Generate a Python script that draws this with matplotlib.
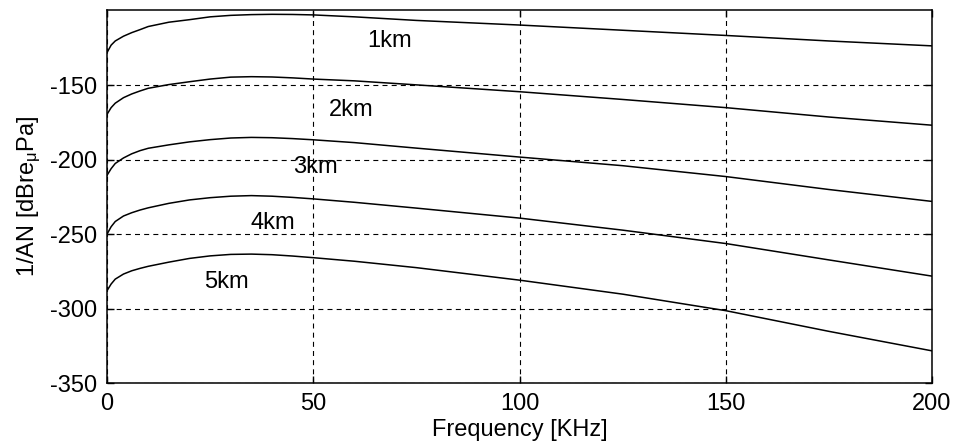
import matplotlib
matplotlib.use("Agg")
import matplotlib.pyplot as plt
import numpy as np

plt.rcParams['font.family'] = ['Liberation Sans', 'DejaVu Sans']
plt.rcParams['mathtext.fontset'] = 'custom'
plt.rcParams['mathtext.rm'] = 'Liberation Sans'
plt.rcParams['mathtext.it'] = 'Liberation Sans:italic'
plt.rcParams['axes.unicode_minus'] = False

# Frequency [kHz]
freq = [0, 1, 2, 4, 6, 8, 10, 15, 20, 25, 30, 35, 40, 45, 50, 60, 75, 100, 125, 150, 175, 200]

an_1km = [-128, -123, -120.2, -117, -114.6, -112.6, -110.5, -107.6, -105.9, -104, -103, -102.5,
          -102.3, -102.4, -102.7, -104, -106.4, -109.5, -113, -116.5, -120.2, -123.5]
an_2km = [-169.5, -165, -162, -158.3, -155.8, -153.8, -152, -149.5, -147.6, -145.8, -144.5, -144.2,
          -144.4, -145, -145.8, -147, -149.7, -154.3, -159.5, -165, -171.3, -176.8]
an_3km = [-210.5, -206, -202.5, -198.8, -196, -193.9, -192.3, -190, -188, -186.5, -185.4, -185,
          -185.2, -185.8, -186.6, -188.5, -192.2, -198.2, -204, -211.3, -220, -228]
an_4km = [-250, -245, -241.5, -237.8, -235.6, -233.8, -232.3, -229.3, -227, -225.5, -224.5, -224.1,
          -224.5, -225.3, -226.3, -228.6, -232.5, -239.2, -247.3, -256.3, -267.3, -278.2]
an_5km = [-288, -283.5, -280.2, -276.8, -274.6, -273, -271.6, -268.8, -266.3, -264.6, -263.6, -263.4,
          -263.8, -264.7, -265.8, -268.2, -272.5, -280.9, -290.3, -301.4, -315.3, -328.4]

series = [an_1km, an_2km, an_3km, an_4km, an_5km]
labels = ['1km', '2km', '3km', '4km', '5km']
label_x = [68.6, 59.3, 50.4, 40.3, 29.0]
label_y = [-120.0, -166.7, -205.2, -242.7, -282.2]

xticks = [0, 50, 100, 150, 200]
yticks = [-350, -300, -250, -200, -150]

fig = plt.figure(figsize=(9.56, 4.46), dpi=100)
ax = fig.add_axes([107/956, 1-383/446, (932-107)/956, (383-10)/446])

for s in series:
    ax.plot(freq, s, color='black', lw=1.1)

fs = 17
for lab, lx, ly in zip(labels, label_x, label_y):
    ax.text(lx, ly, lab, ha='center', va='center', fontsize=fs, color='black')

ax.set_xlim(0, 200)
ax.set_ylim(-350, -99.4)
ax.set_xticks(xticks)
ax.set_yticks(yticks)
ax.grid(True, color='black', lw=0.8, linestyle=(0, (4.5, 3.75)))
ax.tick_params(direction='in', top=True, right=True, length=5, width=1,
               labelsize=fs)
ax.tick_params(axis='x', pad=7)
ax.tick_params(axis='y', pad=7)
for sp in ax.spines.values():
    sp.set_linewidth(1.1)

ax.set_xlabel('Frequency [KHz]', fontsize=fs, labelpad=3)
ax.set_ylabel(r'1/AN [dBre$_\mathregular{μ}$Pa]', fontsize=fs, labelpad=5)

fig.savefig('out.png', dpi=100)
